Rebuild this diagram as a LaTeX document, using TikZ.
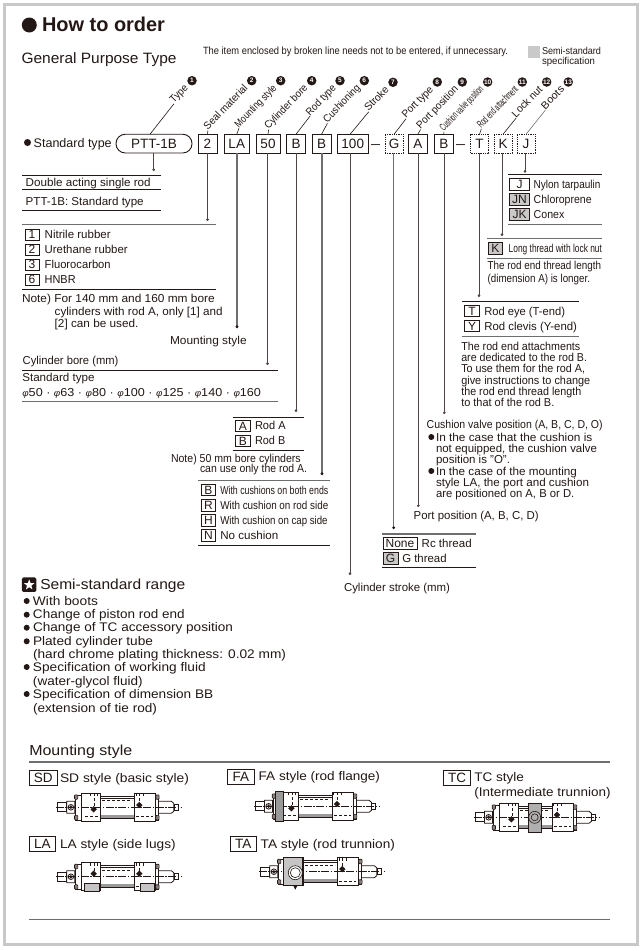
\documentclass[tikz,border=0pt]{standalone}
\usepackage{fontspec}
\usepackage{graphicx}
\setmainfont{Liberation Sans}
\usetikzlibrary{arrows.meta,shapes.geometric,calc}
\definecolor{ink}{HTML}{231815}
\definecolor{rulegray}{HTML}{6E6E6E}
\definecolor{semigray}{HTML}{C9C9C9}
\definecolor{framegray}{HTML}{C8C8C8}
\newcommand\fit[2]{\resizebox{#1pt}{\height}{#2}}
\tikzset{
  txt/.style={anchor=base west,inner sep=0pt,outer sep=0pt,text=ink,font=\fontsize{11.5}{13}\selectfont},
  bigtxt/.style={txt,font=\fontsize{14.5}{17}\selectfont},
  keybox/.style={draw=ink,line width=.7pt,inner sep=0pt,outer sep=0pt,text=ink,font=\fontsize{12}{12}\selectfont},
  bigkey/.style={keybox,font=\fontsize{13.5}{14}\selectfont},
  topbox/.style={draw=ink,line width=.9pt,inner sep=0pt,outer sep=0pt,text=ink,font=\fontsize{13.5}{14}\selectfont},
  optbox/.style={topbox,line width=.8pt,densely dotted},
  drop/.style={line width=.9pt,draw=ink!80,-{Circle[length=2.6pt]}},
  dropg/.style={line width=1.2pt,draw=rulegray,-{Circle[length=2.6pt,color=ink]}},
  rulek/.style={line width=.8pt,draw=ink},
  ruleg/.style={line width=1.3pt,draw=rulegray},
  leader/.style={line width=.6pt,draw=ink},
  numdot/.style={circle,fill=ink,inner sep=0pt,outer sep=0pt,minimum size=9.5pt,text=white,font=\fontsize{6.5}{6.5}\bfseries\selectfont},
  rotlab/.style={rotate=46,anchor=base east,inner sep=0pt,outer sep=0pt,text=ink,font=\fontsize{10.5}{12}\selectfont},
  bull/.style={circle,fill=ink,inner sep=0pt,outer sep=0pt,minimum size=6pt},
  cy/.style={line width=.6pt,draw=ink},
}
\newcommand\tx[5]{\node[txt] (#1) at (#2,#3) {\fit{#4}{#5}};}
\newcommand\kbox[7][keybox]{\node[#1,minimum width={(#4)-(#2)},minimum height={(#5)-(#3)}] (k#6) at ({((#2)+(#4))/2},{((#3)+(#5))/2}) {#7};}
\newcommand\gbox[7][keybox]{\node[#1,fill=semigray,minimum width={(#4)-(#2)},minimum height={(#5)-(#3)}] (k#6) at ({((#2)+(#4))/2},{((#3)+(#5))/2}) {#7};}
\newcommand\toplab[8]{%
  \node[numdot] (d#1) at (#2,#3) {#6};
  \node[rotlab] (l#1) at ({#2-3.5},{#3+8}) {\fit{#4}{#5}};
  \draw[#8] #7 -- (l#1.base west);}
\newcommand\cyl[5]{%
 \begin{scope}[shift={(#1,#2)}]
  \fill[rulegray!70] (43,7.5) rectangle (77,10.5);
  \draw[cy] (43,-11) rectangle (77,11);
  \draw[cy,line width=.9pt] (43,-9) -- (77,-9);
  \draw[cy,densely dashed,line width=.4pt] (45,-7) -- (75,-7);
  \draw[cy,line width=1pt] (24,-14) rectangle (43,14) (77,-14) rectangle (98,14);
  \draw[cy] (18,-12.5) rectangle (24,12.5) (98,-12.5) rectangle (101,12.5);
  \draw[cy,fill=ink!55,rounded corners=.8pt] (17.2,-12.5) rectangle (20.5,-8) (17.2,8) rectangle (20.5,12.5)
     (98.5,-12.5) rectangle (101.8,-8) (98.5,8) rectangle (101.8,12.5);
  \draw[cy,line width=1pt] (0,-4.5) rectangle (9.5,4.5);
  \draw[cy,line width=.8pt] (9.5,-6) rectangle (17.5,6) (13.6,0) circle (2.8) (13.6,0) circle (1.2);
  \draw[cy,line width=.8pt] (101,-6) -- (114,-6) -- (116.5,-4) -- (116.5,4) -- (114,6) -- (101,6);
  \draw[cy] (116.5,-3) rectangle (120.5,3);
  \draw[cy,densely dashed,line width=.4pt] (28,9) -- (41,9) (79,9) -- (96,9);
  \draw[cy,densely dashed,line width=.5pt] (37,-14) -- (37,-1) (33,-14) -- (33,-11) (40,-14) -- (40,-11) (82,-14) -- (82,-4) (86,-14) -- (86,-11) (78.5,-14) -- (78.5,-11);
  \draw[cy,dash pattern=on 8pt off 1.5pt on 1.5pt off 1.5pt] (-1.5,0) -- (125,0);
  \fill[ink] (36.4,#3) ++(-3.2,0) -- ++(3.2,-3.2) -- ++(3.2,3.2) -- ++(-3.2,3.2) -- cycle;
  \fill[ink] (82,#4) ++(-3.2,0) -- ++(3.2,-3.2) -- ++(3.2,3.2) -- ++(-3.2,3.2) -- cycle;
  #5
 \end{scope}}
\begin{document}
\begin{tikzpicture}[x=1pt,y=-1pt]
\useasboundingbox (0,0) rectangle (643,951);
\fill[white] (0,0) rectangle (643,951);
\draw[framegray,line width=3pt] (4.5,4.5) rectangle (637.5,944.5);

% header
\node[circle,fill=ink,minimum size=15pt,inner sep=0pt] (titledot) at (29.3,25) {};
\node[txt,font=\fontsize{20}{22}\bfseries\selectfont] (title) at (42,31.5) {\fit{123}{How to order}};
\node[txt,font=\fontsize{15}{17}\selectfont] (gen) at (21.5,63) {\fit{155}{General Purpose Type}};
\tx{notetop}{203}{54}{305}{\fontsize{10.5}{12}\selectfont The item enclosed by broken line needs not to be entered, if unnecessary.}
\node[fill=semigray,minimum size=12pt,inner sep=0pt] (semisq) at (534,52) {};
\tx{semi1}{542}{54}{59}{\fontsize{10}{11}\selectfont Semi-standard}
\tx{semi2}{542}{64}{53}{\fontsize{10}{11}\selectfont specification}

% order code row
\node[bull,minimum size=7pt] (stdot) at (27.5,142.5) {};
\node[txt,font=\fontsize{12.5}{14}\selectfont] (stdtype) at (33.7,147) {\fit{78}{Standard type}};
\node[topbox,rounded corners=9.2pt,minimum width=76pt,minimum height=18.7pt] (pill) at (154,143.6) {PTT-1B};
\kbox[topbox]{198}{134.3}{217}{153}{two}{2}
\kbox[topbox]{224}{134.3}{249.5}{153}{la}{LA}
\kbox[topbox]{256}{134.3}{280}{153}{fifty}{50}
\kbox[topbox]{286.5}{134.3}{305.5}{153}{rodb}{B}
\kbox[topbox]{312}{134.3}{331}{153}{cushb}{B}
\kbox[topbox]{337}{134.3}{368.5}{153}{hund}{100}
\node[txt,font=\fontsize{13.5}{14}\selectfont] (dash1) at (371,148) {\fit{9}{–}};
\kbox[optbox]{385}{134.3}{403}{153}{g}{G}
\kbox[topbox]{408.5}{134.3}{427}{153}{a}{A}
\kbox[topbox]{434.5}{134.3}{453}{153}{b}{B}
\node[txt,font=\fontsize{13.5}{14}\selectfont] (dash2) at (456,148) {\fit{9}{–}};
\kbox[optbox]{470.5}{134.3}{488.5}{153}{t}{T}
\kbox[optbox]{494}{134.3}{512}{153}{k}{K}
\kbox[optbox]{517}{134.3}{535}{153}{j}{J}

% angled labels
\toplab{1}{192}{80.7}{21}{Type}{1}{([xshift=-4pt]pill.north)}{leader}
\toplab{2}{251.7}{80.7}{58}{Seal material}{2}{(ktwo.north)}{leader}
\toplab{3}{280.7}{80.7}{55}{Mounting style}{3}{(kla.north)}{leader}
\toplab{4}{311.7}{80.7}{57}{Cylinder bore}{4}{(kfifty.north)}{leader}
\toplab{5}{340}{80.7}{38}{Rod type}{5}{(krodb.north)}{leader}
\toplab{6}{364.3}{80.7}{48}{Cushioning}{6}{(kcushb.north)}{leader}
\toplab{7}{393}{82.3}{30}{Stroke}{7}{([xshift=-2.7pt]khund.north)}{leader}
\toplab{8}{437.3}{82}{40}{Port type}{8}{(kg.north)}{leader}
\toplab{9}{462.3}{82}{55}{Port position}{9}{(ka.north)}{leader}
\toplab{10}{487.7}{82}{58}{Cushion valve position}{10}{(kb.north)}{leader}
\toplab{11}{522.3}{82}{54}{Rod end attachment}{11}{(kt.north)}{leader}
\toplab{12}{546.7}{82}{39}{Lock nut}{12}{(kk.north)}{leader}
\toplab{13}{568.3}{82}{28}{Boots}{13}{(kj.north)}{leader,draw=rulegray}

% end points of the drops
\coordinate (epill) at (153.7,171);
\coordinate (etwo) at (207.5,221);
\coordinate (ela) at (237,328);
\coordinate (efifty) at (267.5,365);
\coordinate (erodb) at (296,412);
\coordinate (ecushb) at (322,475);
\coordinate (ehund) at (350,575);
\coordinate (eg) at (393.7,529);
\coordinate (ea) at (418.3,507);
\coordinate (eb) at (444.3,414);
\coordinate (et) at (479,297);
\coordinate (ek) at (502,236);
\coordinate (ej) at (525,172.7);
\draw[drop] (pill.south -| epill) -- (epill);
\draw[drop] (ktwo.south -| etwo) -- (etwo);
\draw[dropg] (kla.south -| ela) -- (ela);
\draw[drop] (kfifty.south -| efifty) -- (efifty);
\draw[drop] (krodb.south -| erodb) -- (erodb);
\draw[dropg] (kcushb.south -| ecushb) -- (ecushb);
\draw[drop] (khund.south -| ehund) -- (ehund);
\draw[dropg] (kg.south -| eg) -- (eg);
\draw[drop] (ka.south -| ea) -- (ea);
\draw[drop] (kb.south -| eb) -- (eb);
\draw[drop] (kt.south -| et) -- (et);
\draw[drop] (kk.south -| ek) -- (ek);
\draw[drop] (kj.south -| ej) -- (ej);

% type block
\draw[rulek] (22,175.3) -- (160.5,175.3) (22,189.3) -- (160.5,189.3) (22,210) -- (160.5,210);
\tx{dbl}{25.7}{186}{125}{Double acting single rod}
\tx{pttstd}{25.7}{205}{118}{PTT-1B: Standard type}

% seal material
\draw[ruleg] (22,224.5) -- (216,224.5);
\draw[rulek] (22,289.5) -- (216,289.5);
\kbox{25}{229}{39}{240}{s1}{1}
\kbox{25}{244}{39}{255}{s2}{2}
\kbox{25}{259}{39}{270}{s3}{3}
\kbox{25}{274}{39}{285}{s6}{6}
\tx{nit}{44.7}{238}{66}{Nitrile rubber}
\tx{ure}{44.7}{253}{83}{Urethane rubber}
\tx{flu}{44.7}{268}{66}{Fluorocarbon}
\tx{hnb}{44.7}{283}{31}{HNBR}
\tx{n1a}{22}{302.3}{192.7}{Note) For 140 mm and 160 mm bore}
\tx{n1b}{54.7}{315}{168}{cylinders with rod A, only [1] and}
\tx{n1c}{54.7}{327}{83.7}{[2] can be used.}
\tx{mst}{170}{344}{76.7}{Mounting style}

% bore
\tx{cbm}{22.7}{364}{95.7}{Cylinder bore (mm)}
\draw[rulek] (22,370.3) -- (277.7,370.3);
\tx{stdb}{22.3}{381.7}{72.3}{Standard type}
\tx{bores}{22.3}{396}{238.7}{{\fontsize{9}{9}\itshape φ}50 · {\fontsize{9}{9}\itshape φ}63 · {\fontsize{9}{9}\itshape φ}80 · {\fontsize{9}{9}\itshape φ}100 · {\fontsize{9}{9}\itshape φ}125 · {\fontsize{9}{9}\itshape φ}140 · {\fontsize{9}{9}\itshape φ}160}
\draw[ruleg] (22,401.7) -- (277.7,401.7);

% rod type
\draw[rulek] (232.7,417) -- (303.7,417) (232.7,450.3) -- (303.7,450.3);
\kbox{235.3}{420.7}{250.3}{431.5}{ra}{A}
\kbox{235.3}{435.7}{250.3}{446.7}{rb}{B}
\tx{roda}{255}{429.3}{30.7}{Rod A}
\tx{rodbt}{255}{444.7}{30.3}{Rod B}
\tx{n2a}{171}{462}{129.7}{Note) 50 mm bore cylinders}
\tx{n2b}{200}{472.7}{107}{can use only the rod A.}

% cushioning
\draw[ruleg,line width=1pt] (198.3,480.3) -- (330,480.3);
\draw[rulek] (198.3,545.3) -- (330,545.3);
\kbox{201}{484.3}{215.7}{495.7}{cb}{B}
\kbox{201}{499.3}{215.7}{511}{cr}{R}
\kbox{201}{514.3}{215.7}{526}{ch}{H}
\kbox{201}{529.3}{215.7}{541}{cn}{N}
\tx{cu1}{220.3}{494}{108}{With cushions on both ends}
\tx{cu2}{220.3}{509}{108}{With cushion on rod side}
\tx{cu3}{220.3}{524}{107.3}{With cushion on cap side}
\tx{cu4}{220.3}{539}{58}{No cushion}

\tx{stroke}{344}{591}{106}{Cylinder stroke (mm)}

% port type
\draw[ruleg] (382.3,534) -- (476,534);
\draw[rulek] (382.3,567) -- (476,567);
\kbox{383}{537}{417}{549}{none}{None}
\gbox{383}{552.7}{398.3}{564.7}{gg}{G}
\tx{rc}{421.7}{547}{50}{Rc thread}
\tx{gthr}{402.3}{562}{44.3}{G thread}
\tx{portp}{413.7}{519}{125}{Port position (A, B, C, D)}

% cushion valve
\tx{cvp}{426.7}{428}{176}{Cushion valve position (A, B, C, D, O)}
\node[bull] (cvd1) at (431.3,437) {};
\node[bull] (cvd2) at (431.3,471) {};
\tx{cv1}{436}{441}{156.3}{In the case that the cushion is}
\tx{cv2}{436}{452}{161}{not equipped, the cushion valve}
\tx{cv3}{436}{463.7}{74}{position is "O".}
\tx{cv4}{436}{475}{141}{In the case of the mounting}
\tx{cv5}{436}{486}{153}{style LA, the port and cushion}
\tx{cv6}{436}{497.7}{138.3}{are positioned on A, B or D.}

% rod end
\draw[rulek] (461.7,301.3) -- (579.3,301.3);
\draw[ruleg,line width=1pt] (461.7,336) -- (579.3,336);
\kbox{464.7}{305.7}{479.3}{316.3}{te}{T}
\kbox{464.7}{320.7}{479.3}{331.3}{ye}{Y}
\tx{teye}{484.3}{315}{80.7}{Rod eye (T-end)}
\tx{yclv}{484.3}{330}{92.7}{Rod clevis (Y-end)}
\tx{p1}{461.3}{350}{119}{The rod end attachments}
\tx{p2}{461.3}{361}{125.7}{are dedicated to the rod B.}
\tx{p3}{461.3}{372.3}{123.7}{To use them for the rod A,}
\tx{p4}{461.3}{384}{129}{give instructions to change}
\tx{p5}{461.3}{395.3}{120}{the rod end thread length}
\tx{p6}{461.3}{406}{93}{to that of the rod B.}

% boots
\draw[rulek] (508.3,174.7) -- (602,174.7);
\draw[ruleg,line width=1pt] (508.3,224) -- (602,224);
\kbox{509.3}{178.7}{529.7}{190.7}{bj}{J}
\gbox{509.3}{193.7}{529.7}{205.7}{bjn}{JN}
\gbox{509.3}{208.7}{529.7}{220.7}{bjk}{JK}
\tx{nyl}{533.7}{188.7}{66.7}{Nylon tarpaulin}
\tx{chl}{533.7}{203.7}{58}{Chloroprene}
\tx{con}{533.7}{218.7}{30.7}{Conex}

% lock nut
\draw[ruleg,line width=1pt] (486.7,238.7) -- (602,238.7) (486.7,258) -- (602,258);
\gbox{488.3}{242}{502.3}{254}{lk}{K}
\tx{lng}{508.7}{252.7}{93.3}{Long thread with lock nut}
\tx{lk1}{487.7}{269.7}{113.3}{The rod end thread length}
\tx{lk2}{487.7}{282.3}{102.3}{(dimension A) is longer.}

% semi-standard range
\node[fill=ink,rounded corners=1.5pt,minimum size=14.5pt,inner sep=0pt] (starbox) at (29.2,584.7) {};
\node[star,star points=5,star point ratio=2.4,fill=white,inner sep=0pt,minimum size=11pt] (starn) at (29.2,584.9) {};
\node[bigtxt] (ssr) at (40.3,589.7) {\fit{145}{Semi-standard range}};
\node[bull] (sd1) at (26.7,601) {};
\node[bull] (sd2) at (26.7,614.7) {};
\node[bull] (sd3) at (26.7,627.7) {};
\node[bull] (sd4) at (26.7,641.3) {};
\node[bull] (sd5) at (26.7,667) {};
\node[bull] (sd6) at (26.7,694) {};
\tx{ss1}{33}{605.3}{65}{\fontsize{12.5}{14}\selectfont With boots}
\tx{ss2}{33}{618.3}{151.7}{\fontsize{12.5}{14}\selectfont Change of piston rod end}
\tx{ss3}{33}{631.7}{200}{\fontsize{12.5}{14}\selectfont Change of TC accessory position}
\tx{ss4}{33}{645.3}{120}{\fontsize{12.5}{14}\selectfont Plated cylinder tube}
\tx{ss5}{33}{658.7}{253}{\fontsize{12.5}{14}\selectfont (hard chrome plating thickness: 0.02 mm)}
\tx{ss6}{33}{671.7}{172.7}{\fontsize{12.5}{14}\selectfont Specification of working fluid}
\tx{ss7}{33}{685.3}{109.7}{\fontsize{12.5}{14}\selectfont (water-glycol fluid)}
\tx{ss8}{33}{698.3}{180.3}{\fontsize{12.5}{14}\selectfont Specification of dimension BB}
\tx{ss9}{33}{712}{124}{\fontsize{12.5}{14}\selectfont (extension of tie rod)}

% mounting style
\node[bigtxt] (mtitle) at (29.3,755.7) {\fit{103}{Mounting style}};
\draw[ruleg,line width=1.1pt] (29,762) -- (610,762);
\draw[ruleg,line width=1.1pt] (29,919.3) -- (610,919.3);
\kbox[bigkey]{29.3}{770.7}{57.3}{785.7}{sd}{SD}
\kbox[bigkey]{227.3}{769}{254.3}{784.3}{fa}{FA}
\kbox[bigkey]{29.3}{836.7}{55.3}{851.7}{las}{LA}
\kbox[bigkey]{230}{836.7}{256.7}{851.7}{ta}{TA}
\kbox[bigkey]{443.7}{770}{470.7}{785}{tc}{TC}
\tx{sdt}{60}{782.3}{129}{\fontsize{12.5}{14}\selectfont SD style (basic style)}
\tx{fat}{258.7}{780.7}{121.3}{\fontsize{12.5}{14}\selectfont FA style (rod flange)}
\tx{lat}{60}{848.3}{115.7}{\fontsize{12.5}{14}\selectfont LA style (side lugs)}
\tx{tat}{260.7}{848.3}{134.3}{\fontsize{12.5}{14}\selectfont TA style (rod trunnion)}
\tx{tct}{474.3}{781.7}{49.7}{\fontsize{12.5}{14}\selectfont TC style}
\tx{tct2}{474.3}{796}{136.3}{\fontsize{12.5}{14}\selectfont (Intermediate trunnion)}

% cylinders
\cyl{57.3}{807.3}{2}{-2.3}{}
\cyl{255}{806.3}{2}{-2.3}{\draw[cy,fill=rulegray!70] (20,-15) rectangle (28,15);}
\cyl{57.3}{876.7}{-3}{-3}{\draw[cy,fill=rulegray!40] (27,6.5) rectangle (42,15) (83,6.5) rectangle (97,15);}
\cyl{475}{817.3}{2}{-2.5}{\draw[cy,fill=rulegray!55] (53.5,-14.5) rectangle (66,14.5);
  \draw[cy] (59.7,0) circle (6) (59.7,0) circle (3.5);}
\cyl{260.3}{871.7}{2}{-2.7}{\draw[cy,fill=rulegray!40] (23,-14) rectangle (42,14);
  \draw[cy,fill=white] (35,1) circle (7); \draw[cy] (35,1) circle (5);
  \fill[ink] (33,14) -- (37,14) -- (35,18) -- cycle;}
\end{tikzpicture}
\end{document}
